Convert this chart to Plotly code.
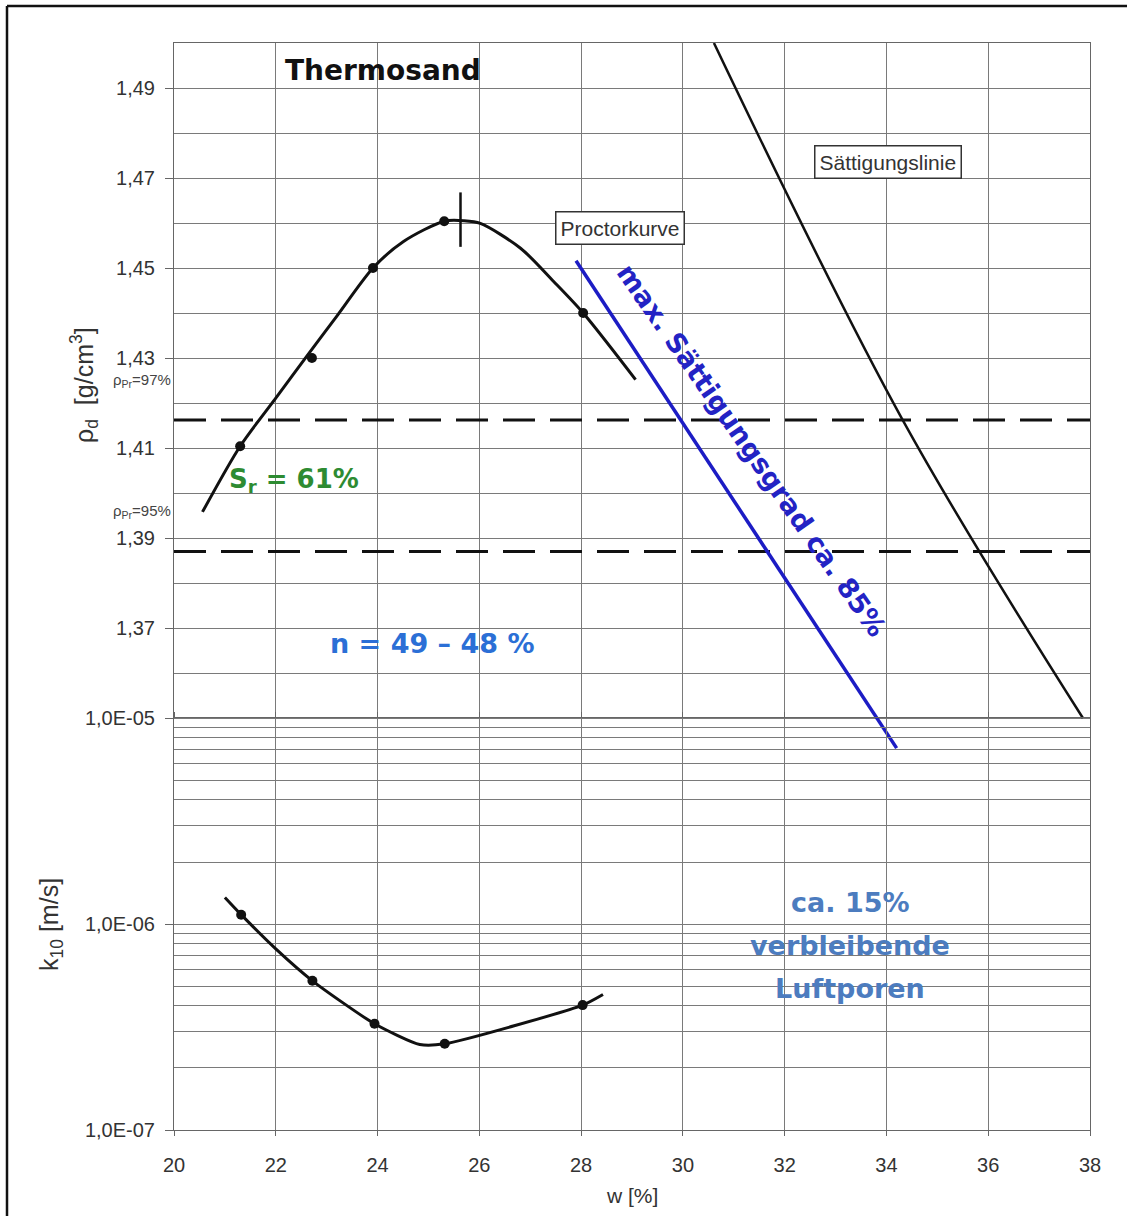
import plotly.graph_objects as go

# ---------------- data ----------------
# water content w [%] and dry density rho_d [g/cm3] of the Proctor test
proctor_w = [21.30, 22.71, 23.91, 25.31, 28.04]
proctor_rho = [1.4104, 1.4300, 1.4500, 1.4604, 1.4400]

# fitted Proctor curve
curve_w = [20.56, 21.30, 22.00, 22.61, 23.20, 23.91, 24.51, 25.31, 25.70, 26.02, 26.81, 27.46, 28.04, 29.07]
curve_rho = [1.3958, 1.4104, 1.4211, 1.4304, 1.4393, 1.4500, 1.4559, 1.4604, 1.4605, 1.4599, 1.4544, 1.4470, 1.4400, 1.4252]

# Proctor optimum marker
opt_w = [25.63, 25.63]
opt_rho = [1.4547, 1.4668]

# 97 % and 95 % of the Proctor density
pr_levels = [1.4162, 1.387]
pr_w = [20, 38]

# saturation line (Saettigungslinie)
sat_w = [30.61, 34.32, 37.86]
sat_rho = [1.5000, 1.4162, 1.3500]

# line of max. degree of saturation ca. 85 %
sr85_w = [27.90, 34.20]
sr85_rho = [1.4516, 1.3433]

# permeability k10 [m/s]
k_w = [21.32, 22.72, 23.94, 25.32, 28.03]
k_val = [1.11e-6, 5.30e-7, 3.28e-7, 2.62e-7, 4.04e-7]
kcurve_w = [21.00, 21.32, 22.00, 22.72, 23.94, 24.83, 25.32, 28.03, 28.43]
kcurve_val = [1.346e-6, 1.11e-6, 7.57e-7, 5.30e-7, 3.28e-7, 2.60e-7, 2.62e-7, 4.04e-7, 4.55e-7]

x_ticks = [20, 22, 24, 26, 28, 30, 32, 34, 36, 38]
rho_ticks = [1.37, 1.39, 1.41, 1.43, 1.45, 1.47, 1.49]
rho_labels = ["1,37", "1,39", "1,41", "1,43", "1,45", "1,47", "1,49"]
rho_minor = [1.35, 1.36, 1.38, 1.40, 1.42, 1.44, 1.46, 1.48, 1.50]
k_ticks = [1e-7, 1e-6, 1e-5]
k_labels = ["1,0E-07", "1,0E-06", "1,0E-05"]
k_minor = [m * 1e-7 for m in range(2, 10)] + [m * 1e-6 for m in range(2, 10)]

# ---------------- layout geometry ----------------
W, H = 1127, 1216
L, R, T, B = 174, 37, 43, 86
PW, PH = W - L - R, H - T - B
UPPER_PX = 675            # linear density panel
LOWER_PX = PH - UPPER_PX  # log permeability panel
RHO_LOW, RHO_TOP = 1.35, 1.50
rho_bottom = RHO_LOW - (RHO_TOP - RHO_LOW) * LOWER_PX / UPPER_PX


def pxx(xp):
    return (xp - L) / PW


def pxy(yp):
    return (T + PH - yp) / PH


GRID = "#7a7a7a"
AXIS = "#666666"
TICKFONT = dict(family="Liberation Sans, Arial, sans-serif", size=20, color="#333333")
BOLD = "DejaVu Sans, Verdana, sans-serif"
REG = "Liberation Sans, Arial, sans-serif"

fig = go.Figure()

# density panel
for lvl in pr_levels:
    fig.add_trace(go.Scatter(x=pr_w, y=[lvl, lvl], mode="lines",
                             line=dict(color="#111111", width=3, dash="32px,15px"),
                             xaxis="x", yaxis="y", hoverinfo="skip"))
fig.add_trace(go.Scatter(x=curve_w, y=curve_rho, mode="lines",
                         line=dict(color="#111111", width=3, shape="spline", smoothing=0.8),
                         xaxis="x", yaxis="y"))
fig.add_trace(go.Scatter(x=proctor_w, y=proctor_rho, mode="markers",
                         marker=dict(color="#111111", size=10),
                         xaxis="x", yaxis="y"))
fig.add_trace(go.Scatter(x=opt_w, y=opt_rho, mode="lines",
                         line=dict(color="#111111", width=2.5),
                         xaxis="x", yaxis="y"))
fig.add_trace(go.Scatter(x=sat_w, y=sat_rho, mode="lines",
                         line=dict(color="#111111", width=2.5, shape="spline", smoothing=1.0),
                         xaxis="x", yaxis="y"))
fig.add_trace(go.Scatter(x=sr85_w, y=sr85_rho, mode="lines",
                         line=dict(color="#1c1cc4", width=3.5),
                         xaxis="x", yaxis="y"))

# permeability panel
fig.add_trace(go.Scatter(x=kcurve_w, y=kcurve_val, mode="lines",
                         line=dict(color="#111111", width=3, shape="spline", smoothing=0.6),
                         xaxis="x", yaxis="y2"))
fig.add_trace(go.Scatter(x=k_w, y=k_val, mode="markers",
                         marker=dict(color="#111111", size=10),
                         xaxis="x", yaxis="y2"))

annotations = [
    dict(text="<b>Thermosand</b>", x=pxx(283), y=pxy(70), xanchor="left", yanchor="middle",
         font=dict(family=BOLD, size=28, color="#111111")),
    dict(text="Proctorkurve", x=pxx(620), y=pxy(228), xanchor="center", yanchor="middle",
         font=dict(family=REG, size=21, color="#333333"),
         bordercolor="#333333", borderwidth=1.5, borderpad=4, bgcolor="white"),
    dict(text="Sättigungslinie", x=pxx(888), y=pxy(162), xanchor="center", yanchor="middle",
         font=dict(family=REG, size=21, color="#333333"),
         bordercolor="#333333", borderwidth=1.5, borderpad=4, bgcolor="white"),
    dict(text="<b>max. Sättigungsgrad ca. 85%</b>", x=pxx(751), y=pxy(450), textangle=55,
         xanchor="center", yanchor="middle",
         font=dict(family=BOLD, size=27, color="#2323c4")),
    dict(text="<b>S<sub>r</sub> = 61%</b>", x=pxx(227), y=pxy(480), xanchor="left", yanchor="middle",
         font=dict(family=BOLD, size=26, color="#2e8b32")),
    dict(text="<b>n = 49 – 48 %</b>", x=pxx(432), y=pxy(643), xanchor="center", yanchor="middle",
         font=dict(family=BOLD, size=27, color="#2b6fd6")),
    dict(text="<b>ca. 15%</b>", x=pxx(850), y=pxy(902), xanchor="center", yanchor="middle",
         font=dict(family=BOLD, size=27, color="#4c7cbf")),
    dict(text="<b>verbleibende</b>", x=pxx(850), y=pxy(945), xanchor="center", yanchor="middle",
         font=dict(family=BOLD, size=27, color="#4c7cbf")),
    dict(text="<b>Luftporen</b>", x=pxx(850), y=pxy(988), xanchor="center", yanchor="middle",
         font=dict(family=BOLD, size=27, color="#4c7cbf")),
    dict(text="ρ<sub>Pr</sub>=97%", x=pxx(173), y=pxy(381), xanchor="right", yanchor="middle",
         font=dict(family=REG, size=15, color="#444444")),
    dict(text="ρ<sub>Pr</sub>=95%", x=pxx(173), y=pxy(511), xanchor="right", yanchor="middle",
         font=dict(family=REG, size=15, color="#444444")),
    dict(text="ρ<sub>d</sub>  [g/cm<sup>3</sup>]", x=pxx(84), y=pxy(385), textangle=-90,
         xanchor="center", yanchor="middle",
         font=dict(family=REG, size=25, color="#333333")),
    dict(text="k<sub>10</sub> [m/s]", x=pxx(51), y=pxy(925), textangle=-90,
         xanchor="center", yanchor="middle",
         font=dict(family=REG, size=25, color="#333333")),
    dict(text="w [%]", x=pxx(632), y=pxy(1195), xanchor="center", yanchor="middle",
         font=dict(family=REG, size=21, color="#333333")),
]
for a in annotations:
    a.update(xref="paper", yref="paper", showarrow=False)

# frame around the figure (top and left edge)
shapes = [
    dict(type="line", xref="paper", yref="paper", x0=pxx(7), x1=pxx(W), y0=pxy(6), y1=pxy(6),
         line=dict(color="#111111", width=2.5)),
    dict(type="line", xref="paper", yref="paper", x0=pxx(7), x1=pxx(7), y0=pxy(6), y1=pxy(H),
         line=dict(color="#111111", width=2.5)),
]

fig.update_layout(
    width=W, height=H, autosize=False,
    margin=dict(l=L, r=R, t=T, b=B, pad=0),
    paper_bgcolor="white", plot_bgcolor="rgba(0,0,0,0)",
    showlegend=False,
    xaxis=dict(range=[20, 38], tickvals=x_ticks, ticktext=[str(v) for v in x_ticks],
               showgrid=True, gridcolor=GRID, gridwidth=1, zeroline=False,
               ticks="outside", ticklen=5, tickcolor=AXIS, tickfont=TICKFONT,
               ticklabelstandoff=12,
               showline=True, linecolor=AXIS, linewidth=1, mirror="all", anchor="y2"),
    yaxis=dict(domain=[0, 1], range=[rho_bottom, RHO_TOP],
               tickvals=rho_ticks, ticktext=rho_labels,
               showgrid=True, gridcolor=GRID, gridwidth=1, zeroline=False,
               minor=dict(tickvals=rho_minor, showgrid=True, gridcolor=GRID, gridwidth=1, ticks=""),
               ticks="outside", ticklen=8, tickcolor=AXIS, tickfont=TICKFONT,
               ticklabelstandoff=6,
               showline=True, linecolor=AXIS, linewidth=1, mirror=True, anchor="x"),
    yaxis2=dict(domain=[0, LOWER_PX / PH], type="log", range=[-7, -4.9999],
                tickvals=k_ticks, ticktext=k_labels,
                showgrid=True, gridcolor=GRID, gridwidth=1, zeroline=False,
                minor=dict(tickvals=k_minor, showgrid=True, gridcolor=GRID, gridwidth=1, ticks=""),
                ticks="outside", ticklen=8, tickcolor=AXIS, tickfont=TICKFONT,
                ticklabelstandoff=6,
                showline=True, linecolor=AXIS, linewidth=1, mirror=True, anchor="x"),
    annotations=annotations,
    shapes=shapes,
)

fig.write_html("out.html")
